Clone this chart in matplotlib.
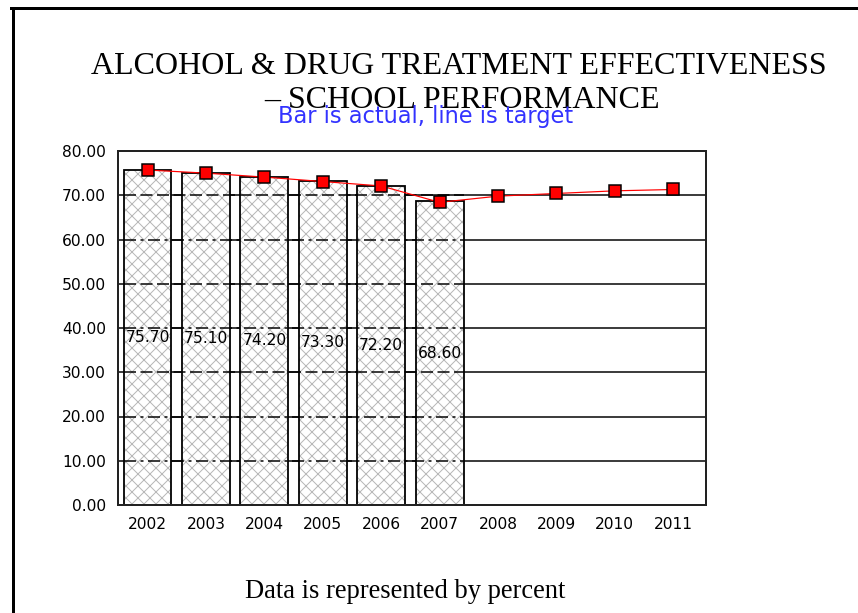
import matplotlib
matplotlib.use("Agg")
import matplotlib.pyplot as plt
from matplotlib.lines import Line2D

years = ["2002", "2003", "2004", "2005", "2006", "2007", "2008", "2009", "2010", "2011"]
actual = [75.70, 75.10, 74.20, 73.30, 72.20, 68.60]
target = [75.7, 75.0, 74.1, 73.1, 72.1, 68.4, 69.8, 70.4, 71.0, 71.3]
y_ticks = [0, 10, 20, 30, 40, 50, 60, 70, 80]

plt.rcParams["hatch.linewidth"] = 1.0

W, H = 858, 613
fig = plt.figure(figsize=(W / 72, H / 72), dpi=72)
fig.patch.set_facecolor("white")

# page frame (left and top edges only)
fig.add_artist(Line2D([12.5 / W, 12.5 / W], [0, 1 - 7.5 / H], color="black", lw=3))
fig.add_artist(Line2D([11 / W, 1], [1 - 7.5 / H, 1 - 7.5 / H], color="black", lw=3))

fig.text(459 / W, 1 - 74 / H, "ALCOHOL & DRUG TREATMENT EFFECTIVENESS",
         ha="center", va="baseline", family="Liberation Serif", fontsize=32)
fig.text(462 / W, 1 - 108 / H, "\u2013 SCHOOL PERFORMANCE",
         ha="center", va="baseline", family="Liberation Serif", fontsize=32)
fig.text(426 / W, 1 - 123 / H, "Bar is actual, line is target",
         ha="center", va="baseline", family="DejaVu Sans", fontsize=22.5, color="#3333ff")
fig.text(405 / W, 1 - 598 / H, "Data is represented by percent",
         ha="center", va="baseline", family="Liberation Serif", fontsize=26.5)

ax = fig.add_axes([118 / W, 1 - 505 / H, (706 - 118) / W, (505 - 151) / H])
x = list(range(len(years)))
bar_w = 0.82
n = len(actual)

# solid gridlines behind the bars
for t in y_ticks[1:-1]:
    ax.axhline(t, color="black", lw=1.5, zorder=0.5)

# gray cross-hatch fill, then black outlines on top
ax.bar(x[:n], actual, width=bar_w, color="white", edgecolor="#b8b8b8",
       linewidth=0, hatch="xx", zorder=1)
ax.bar(x[:n], actual, width=bar_w, fill=False, edgecolor="black",
       linewidth=1.8, zorder=2.5)

# gridlines show through the bars as broken lines
for t in y_ticks[1:-1]:
    ls = (0, (8, 3)) if t in (30, 50, 70) else (0, (8, 3, 2, 3))
    ax.hlines(t, -bar_w / 2, n - 1 + bar_w / 2, color="black", lw=1.5,
              linestyles=[ls], zorder=2)

for i, v in enumerate(actual):
    ax.text(i, v / 2, f"{v:.2f}", ha="center", va="center",
            family="DejaVu Sans", fontsize=15.5, zorder=3)

ax.plot(x, target, color="red", lw=1.2, marker="s", ms=12, mfc="red",
        mec="black", mew=1.5, zorder=4)

ax.set_xlim(-0.505, 9.56)
ax.set_ylim(0, 80)
ax.set_yticks(y_ticks)
ax.set_yticklabels([f"{t:.2f}" for t in y_ticks])
ax.set_xticks(x)
ax.set_xticklabels(years)
ax.tick_params(length=0, pad=12, labelsize=15.5)
for lab in ax.get_xticklabels() + ax.get_yticklabels():
    lab.set_family("DejaVu Sans")
for s in ax.spines.values():
    s.set_linewidth(2)
    s.set_color("#222222")

fig.savefig("out.png", dpi=72)
